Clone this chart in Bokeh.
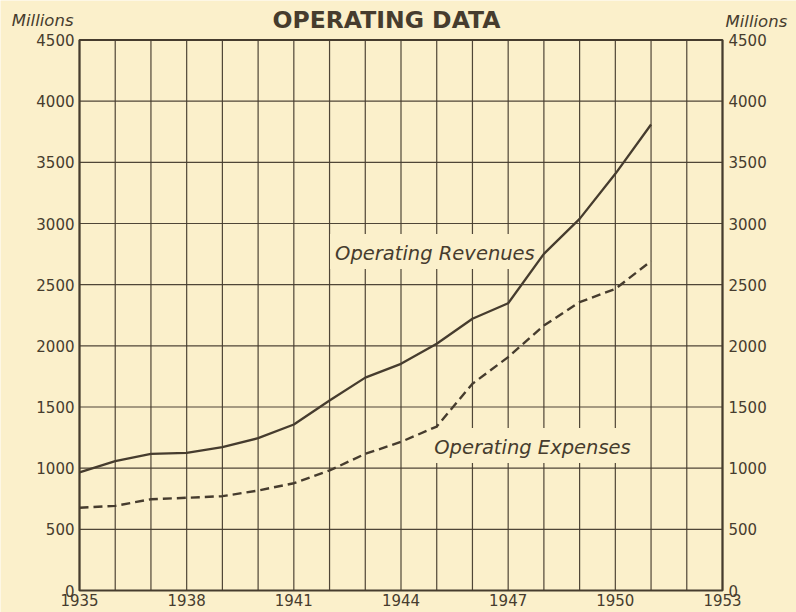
from bokeh.plotting import figure
from bokeh.models import Range1d, LinearAxis, FixedTicker, Label
from bokeh.embed import file_html
from bokeh.resources import INLINE

# ---- data ----
years = list(range(1935, 1952))
revenues = [965, 1057, 1117, 1125, 1172, 1245, 1357, 1553, 1740, 1853,
            2017, 2221, 2348, 2752, 3038, 3406, 3809]
expenses = [676, 692, 746, 758, 771, 817, 877, 981, 1117, 1215,
            1340, 1690, 1908, 2166, 2357, 2466, 2692]
grid_years = list(range(1935, 1954))
x_ticks = [1935, 1938, 1941, 1944, 1947, 1950, 1953]
y_ticks = [0, 500, 1000, 1500, 2000, 2500, 3000, 3500, 4000, 4500]
title_text = "OPERATING DATA"
unit_text = "Millions"
rev_label = "Operating Revenues"
exp_label = "Operating Expenses"

BG = "#fbf0cb"
INK = "#463c2e"
FONT = "DejaVu Sans"

# the frame fills the canvas; the chart box (1935-1953, 0-4500) sits inside it
W, H = 796, 612
BOX_L, BOX_R, BOX_T, BOX_B = 79, 722, 39.5, 590
xs = (BOX_R - BOX_L) / (x_ticks[-1] - x_ticks[0])
ys = (BOX_B - BOX_T) / (y_ticks[-1] - y_ticks[0])
x_range = Range1d(x_ticks[0] - BOX_L / xs, x_ticks[-1] + (W - BOX_R) / xs)
y_range = Range1d(y_ticks[0] - (H - BOX_B) / ys, y_ticks[-1] + BOX_T / ys)

p = figure(width=W, height=H, output_backend="svg", toolbar_location=None,
           x_range=x_range, y_range=y_range, title_location=None,
           min_border=0, min_border_left=0, min_border_right=0,
           min_border_top=0, min_border_bottom=0,
           background_fill_color=BG, border_fill_color=BG)
p.outline_line_color = None
p.grid.visible = False

# grid lines (one per year, one per 500)
p.segment(x0=grid_years, y0=y_ticks[0], x1=grid_years, y1=y_ticks[-1],
          line_color=INK, line_width=1.2, line_alpha=0.95, level="image")
p.segment(x0=x_ticks[0], y0=y_ticks, x1=x_ticks[-1], y1=y_ticks,
          line_color=INK, line_width=1.2, line_alpha=0.95, level="image")
# chart box
p.quad(left=x_ticks[0], right=x_ticks[-1], bottom=y_ticks[0], top=y_ticks[-1],
       fill_color=None, line_color=INK, line_width=2.2)

# axes pinned to the chart box
p.xaxis.ticker = FixedTicker(ticks=x_ticks)
p.xaxis.fixed_location = y_ticks[0]
p.yaxis.ticker = FixedTicker(ticks=y_ticks)
p.yaxis.fixed_location = x_ticks[0]
right_axis = LinearAxis(ticker=FixedTicker(ticks=y_ticks), fixed_location=x_ticks[-1])
p.add_layout(right_axis, "right")

for ax in (p.xaxis[0], p.yaxis[0], right_axis):
    ax.axis_line_color = None
    ax.major_tick_line_color = None
    ax.minor_tick_line_color = None
    ax.major_tick_out = 0
    ax.major_tick_in = 0
    ax.major_label_text_font = FONT
    ax.major_label_text_font_size = "15px"
    ax.major_label_text_color = INK

p.xaxis.major_label_standoff = 3
p.yaxis[0].major_label_standoff = 5
right_axis.major_label_standoff = 6

# ---- lines ----
p.line(years, revenues, line_color=INK, line_width=2.3)
p.line(years, expenses, line_color=INK, line_width=2.4, line_dash="9 5")

# ---- texts ----
p.add_layout(Label(x=x_ticks[0], y=y_ticks[-1], x_offset=193, y_offset=20.5,
                   text=title_text, text_align="left", text_baseline="alphabetic",
                   text_font=FONT, text_font_style="bold",
                   text_font_size="23.5px", text_color=INK))
p.add_layout(Label(x=x_ticks[0], y=y_ticks[-1], x_offset=-6, y_offset=19.5,
                   text=unit_text, text_align="right", text_baseline="alphabetic",
                   text_font=FONT, text_font_style="italic",
                   text_font_size="16.5px", text_color=INK))
p.add_layout(Label(x=x_ticks[-1], y=y_ticks[-1], x_offset=3, y_offset=18.5,
                   text=unit_text, text_align="left", text_baseline="alphabetic",
                   text_font=FONT, text_font_style="italic",
                   text_font_size="16.5px", text_color=INK))

pad = dict(left=5, right=5, top=8, bottom=4)
p.add_layout(Label(x=1944.95, y=2771, text=rev_label,
                   text_align="center", text_baseline="alphabetic",
                   text_font=FONT, text_font_style="italic",
                   text_font_size="19.5px", text_color=INK,
                   background_fill_color=BG, padding=pad, level="underlay"))
p.add_layout(Label(x=1947.68, y=1185, text=exp_label,
                   text_align="center", text_baseline="alphabetic",
                   text_font=FONT, text_font_style="italic",
                   text_font_size="19.5px", text_color=INK,
                   background_fill_color=BG, padding=pad, level="underlay"))

open("out.html", "w").write(file_html(p, INLINE))
